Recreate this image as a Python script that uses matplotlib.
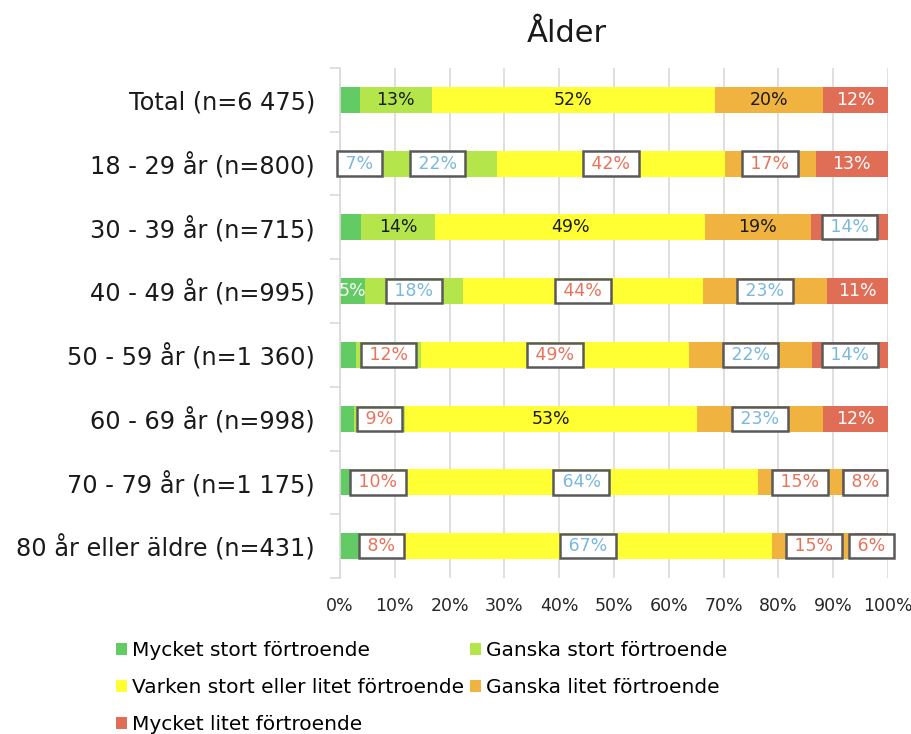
import matplotlib
matplotlib.use("Agg")
import matplotlib.pyplot as plt
import numpy as np
from matplotlib.patches import Patch
from matplotlib.ticker import FixedLocator

plt.rcParams['font.family'] = ['DejaVu Sans']

categories = ["Total (n=6 475)", "18 - 29 år (n=800)", "30 - 39 år (n=715)",
              "40 - 49 år (n=995)", "50 - 59 år (n=1 360)", "60 - 69 år (n=998)",
              "70 - 79 år (n=1 175)", "80 år eller äldre (n=431)"]
series_names = ["Mycket stort förtroende", "Ganska stort förtroende",
                "Varken stort eller litet förtroende", "Ganska litet förtroende",
                "Mycket litet förtroende"]
mycket_stort = [3.6, 7.0, 3.8, 4.6, 2.9, 2.6, 1.9, 3.6]
ganska_stort = [13.1, 21.6, 13.6, 17.9, 11.9, 9.3, 10.0, 8.0]
varken = [51.8, 41.6, 49.2, 43.7, 48.9, 53.3, 64.3, 67.3]
ganska_litet = [19.7, 16.6, 19.3, 22.6, 22.4, 22.9, 15.4, 15.1]
mycket_litet = [11.8, 13.2, 14.1, 11.2, 13.9, 11.9, 8.4, 6.0]
# label style per cell: '' hidden, 'k' black text, 'w' white text, 'r' red boxed, 'b' blue boxed
label_styles = [
    ['', 'k', 'k', 'k', 'w'],
    ['b', 'b', 'r', 'r', 'w'],
    ['', 'k', 'k', 'k', 'b'],
    ['w', 'b', 'r', 'b', 'w'],
    ['', 'r', 'r', 'b', 'b'],
    ['', 'r', 'k', 'b', 'w'],
    ['', 'r', 'b', 'r', 'r'],
    ['', 'r', 'b', 'r', 'r'],
]
xticks = [0, 10, 20, 30, 40, 50, 60, 70, 80, 90, 100]
xticklabels = [f"{v}%" for v in xticks]
colors = ["#63CB63", "#B4E64B", "#FFFF33", "#F0B340", "#E06E57"]
title = "Ålder"

data = [mycket_stort, ganska_stort, varken, ganska_litet, mycket_litet]

fig = plt.figure(figsize=(9.12, 7.34), dpi=100)
ax = fig.add_axes([0.3728, 0.2125, 0.6009, 0.6949])

y = np.arange(len(categories))
left = np.zeros(len(categories))
text_colors = {'k': '#1a1a1a', 'w': 'white', 'r': '#E8735A', 'b': '#7AB8DD'}
for si, vals in enumerate(data):
    vals = np.array(vals)
    ax.barh(y, vals, left=left, height=0.41, color=colors[si], zorder=2)
    for ci in range(len(categories)):
        st = label_styles[ci][si]
        if st:
            cx = left[ci] + vals[ci] / 2
            txt = f"{int(round(vals[ci]))}%"
            kw = dict(ha='center', va='center', fontsize=12.5, color=text_colors[st], zorder=4)
            if st in ('r', 'b'):
                txt = " " + txt + " "
                kw['bbox'] = dict(boxstyle='square,pad=0.18', fc='white', ec='#595959', lw=1.8)
            ax.text(cx, ci, txt, **kw)
    left += vals

ax.set_xlim(0, 100)
ax.set_ylim(len(categories) - 0.5, -0.5)
ax.set_xticks(xticks)
ax.set_xticklabels(xticklabels, fontsize=12.5, color='#262626')
ax.set_yticks(y)
ax.set_yticklabels(categories, fontsize=17.3, color='#1a1a1a')
ax.yaxis.set_minor_locator(FixedLocator(np.arange(-0.5, len(categories), 1.0)))
ax.tick_params(axis='y', which='major', length=0, pad=18)
ax.tick_params(axis='y', which='minor', length=7, color='#d9d9d9', width=1.2)
ax.tick_params(axis='x', length=0, pad=14)
ax.grid(axis='x', color='#d9d9d9', lw=1.2, zorder=0)
ax.set_axisbelow(True)
for s in ['top', 'right', 'bottom']:
    ax.spines[s].set_visible(False)
ax.spines['left'].set_color('#d9d9d9')
ax.spines['left'].set_linewidth(1.2)

fig.text(0.622, 0.955, title, ha='center', va='center', fontsize=22, color='#1a1a1a')

order = [0, 2, 4, 1, 3]
handles = [Patch(facecolor=colors[i], edgecolor='none') for i in order]
labels = [series_names[i] for i in order]
fig.legend(handles, labels, loc='upper left', bbox_to_anchor=(0.127, 0.127),
           ncol=2, frameon=False, fontsize=14.5, handlelength=0.55, handleheight=0.55,
           handletextpad=0.25, columnspacing=0.3, labelspacing=0.9, borderaxespad=0,
           borderpad=0)

fig.savefig("out.png", dpi=100)
